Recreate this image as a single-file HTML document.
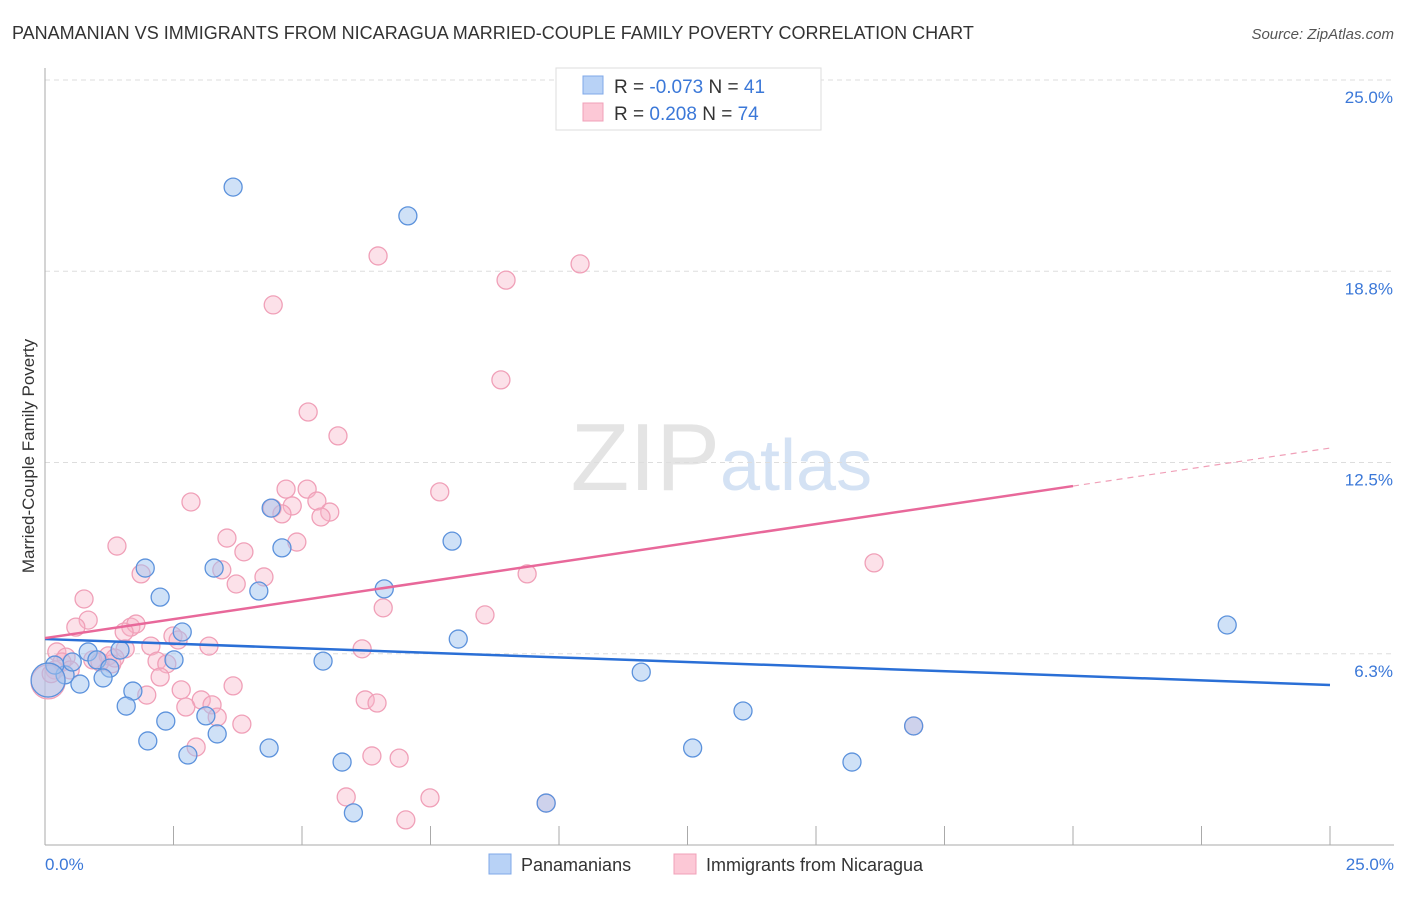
<!DOCTYPE html>
<html><head><meta charset="utf-8"><style>
body{margin:0;background:#fff;font-family:"Liberation Sans",sans-serif}
svg text{font-family:"Liberation Sans",sans-serif}
</style></head><body>
<svg id="chart" width="1406" height="892" xmlns="http://www.w3.org/2000/svg">
<text x="12" y="39" font-size="18" fill="#333">PANAMANIAN VS IMMIGRANTS FROM NICARAGUA MARRIED-COUPLE FAMILY POVERTY CORRELATION CHART</text>
<text x="1394" y="39" font-size="15" fill="#555" text-anchor="end" font-style="italic">Source: ZipAtlas.com</text>
<text x="720" y="490" font-size="96" fill="#e4e4e4" text-anchor="end" font-family="Liberation Serif">ZIP</text>
<text x="720" y="490" font-size="72" fill="#d4e2f4">atlas</text>
<g id="grid"></g><g id="axes"></g><g id="marks"></g><g id="trends"></g>
<text transform="translate(34,456) rotate(-90)" font-size="17" fill="#333" text-anchor="middle">Married-Couple Family Poverty</text>
<text x="45" y="870" font-size="17" fill="#3b78d8">0.0%</text>
<text x="1394" y="870" font-size="17" fill="#3b78d8" text-anchor="end">25.0%</text>
<g>
<rect x="556" y="68" width="265" height="62" fill="#fff" stroke="#ddd"/>
<rect x="583" y="76" width="20" height="18" fill="#b8d2f6" stroke="#7fa8e8"/>
<rect x="583" y="103" width="20" height="18" fill="#fcc8d6" stroke="#f0a0b8"/>
<text x="614" y="93" font-size="19" fill="#333">R = <tspan fill="#3b78d8">-0.073</tspan>   N = <tspan fill="#3b78d8">41</tspan></text>
<text x="614" y="120" font-size="19" fill="#333">R =   <tspan fill="#3b78d8">0.208</tspan>   N = <tspan fill="#3b78d8">74</tspan></text>
</g>
<g>
<rect x="489" y="854" width="22" height="20" fill="#b8d2f6" stroke="#7fa8e8"/>
<text x="521" y="871" font-size="18" fill="#333">Panamanians</text>
<rect x="674" y="854" width="22" height="20" fill="#fcc8d6" stroke="#f0a0b8"/>
<text x="706" y="871" font-size="18" fill="#333">Immigrants from Nicaragua</text>
</g>
</svg>
<script>
const yTicks=[6.25,12.5,18.75,25];
const yTickLabels=["6.3%","12.5%","18.8%","25.0%"];
const xTicks=[0,2.5,5,7.5,10,12.5,15,17.5,20,22.5,25];
const blueX=[3.66,7.06,7.92,4.61,4.40,1.95,3.29,2.24,4.16,6.60,2.67,8.04,23.0,11.6,5.41,2.51,1.46,0.84,1.01,1.26,1.13,0.68,0.39,0.19,0.53,0.06,1.71,1.58,2.35,3.13,3.35,2.00,2.78,4.36,5.78,6.0,9.75,13.58,12.6,15.7,16.9];
const blueY=[21.5,20.56,9.93,9.71,11.01,9.05,9.05,8.10,8.30,8.37,6.96,6.73,7.19,5.65,6.01,6.05,6.37,6.31,6.05,5.78,5.46,5.26,5.56,5.88,5.98,5.39,5.03,4.54,4.05,4.22,3.63,3.40,2.94,3.17,2.71,1.05,1.37,4.38,3.17,2.71,3.89];
const pinkX=[6.48,10.41,8.97,4.44,8.87,5.12,5.70,4.69,5.10,7.68,2.84,5.29,4.81,4.42,4.61,5.54,5.37,3.54,4.90,1.40,3.87,16.13,1.87,3.44,4.26,3.72,9.38,0.76,6.58,8.56,0.84,0.60,1.67,1.77,1.54,2.49,2.59,3.19,1.56,2.06,6.17,0.23,0.41,0.93,1.23,2.18,2.37,1.30,0.19,2.24,0.06,2.65,3.66,1.98,3.04,3.25,2.74,6.23,6.46,3.35,3.83,2.94,6.36,6.89,5.86,7.49,7.02,16.9,9.75,0.33,1.07,0.49,1.36,0.12];
const pinkY=[19.25,18.99,18.46,17.65,15.2,14.15,13.37,11.63,11.63,11.54,11.21,11.24,11.08,11.01,10.82,10.88,10.72,10.03,9.90,9.77,9.58,9.22,8.86,8.99,8.76,8.53,8.86,8.04,7.75,7.52,7.35,7.12,7.12,7.22,6.96,6.83,6.70,6.50,6.41,6.50,6.41,6.31,6.14,6.05,6.18,6.01,5.92,5.92,5.72,5.49,5.33,5.07,5.20,4.90,4.74,4.58,4.51,4.74,4.64,4.18,3.95,3.20,2.91,2.84,1.57,1.54,0.82,3.89,1.37,5.98,5.98,5.72,6.11,5.6];
const blueTrend=[6.73,-0.06];
const pinkTrend=[6.76,0.2485];
const NS="http://www.w3.org/2000/svg";
const X=v=>45+v/25*1285, Y=v=>845-v/25*765;
function mk(tag,attrs,parent){const e=document.createElementNS(NS,tag);for(const k in attrs)e.setAttribute(k,attrs[k]);document.getElementById(parent).appendChild(e);return e;}
yTicks.forEach((t,i)=>{
 const l=mk('line',{x1:45,x2:1394,y1:Y(t),y2:Y(t),stroke:'#ddd','stroke-dasharray':'5,4'},'grid');
 
 
 const tx=mk('text',{x:1393,y:Y(t)+23,'font-size':17,fill:'#3b78d8','text-anchor':'end'},'grid');
 tx.textContent=yTickLabels[i];
 
 
});
const ax=mk('line',{x1:45,x2:45,y1:68,y2:845,stroke:'#aaa'},'axes');


const bx=mk('line',{x1:45,x2:1394,y1:845,y2:845,stroke:'#aaa'},'axes');


xTicks.forEach(t=>{
 const l=mk('line',{x1:X(t),x2:X(t),y1:826,y2:845,stroke:'#aaa'},'axes');
 
 
});
function dots(xs,ys,fill,stroke,name){
 xs.forEach((x,i)=>{
  const big=(x<0.1);
  const c=mk('circle',{cx:X(x),cy:Y(ys[i]),r:big?17:9,fill:fill,stroke:stroke,'stroke-width':1.3},'marks');
  
  
 });
}
dots(pinkX,pinkY,'rgba(248,180,200,0.4)','#f0a0b8','pink-point');
dots(blueX,blueY,'rgba(160,196,240,0.5)','#5c92dc','blue-point');
const bl=mk('line',{x1:X(0),y1:Y(blueTrend[0]),x2:X(25),y2:Y(blueTrend[0]+25*blueTrend[1]),stroke:'#2a6fd6','stroke-width':2.5},'trends');


const pl=mk('line',{x1:X(0),y1:Y(pinkTrend[0]),x2:X(20),y2:Y(pinkTrend[0]+20*pinkTrend[1]),stroke:'#e8689a','stroke-width':2.5},'trends');


const pd=mk('line',{x1:X(20),y1:Y(pinkTrend[0]+20*pinkTrend[1]),x2:X(25),y2:Y(pinkTrend[0]+25*pinkTrend[1]),stroke:'#f0a0b8','stroke-width':1.2,'stroke-dasharray':'6,5'},'trends');


</script>
</body></html>
